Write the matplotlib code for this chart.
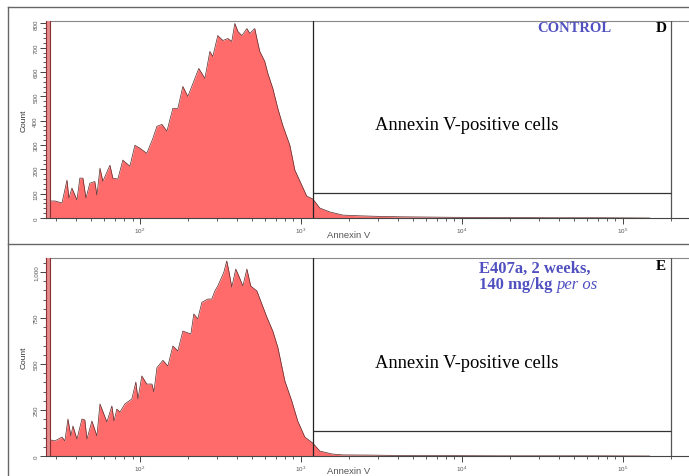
import matplotlib
matplotlib.use("Agg")
import matplotlib.pyplot as plt
import numpy as np
from matplotlib.lines import Line2D
from matplotlib.ticker import LogLocator, MultipleLocator, FuncFormatter, NullFormatter

# Annexin V histograms, log10 of channel intensity vs event count
control_log = [1.422, 1.472, 1.516, 1.547, 1.559, 1.578, 1.609, 1.627, 1.646, 1.665,
               1.689, 1.720, 1.733, 1.752, 1.770, 1.814, 1.832, 1.863, 1.894, 1.938,
               1.969, 2.000, 2.043, 2.081, 2.106, 2.137, 2.168, 2.205, 2.236, 2.267,
               2.298, 2.342, 2.366, 2.404, 2.435, 2.453, 2.484, 2.516, 2.547, 2.571,
               2.590, 2.609, 2.634, 2.665, 2.683, 2.714, 2.727, 2.745, 2.776, 2.795,
               2.826, 2.857, 2.888, 2.932, 2.963, 3.006, 3.037, 3.075, 3.118, 3.180,
               3.261, 3.366, 3.472, 3.615, 3.925, 4.236, 4.547, 4.857, 5.168]
control_count = [70, 70, 62, 156, 82, 123, 74, 164, 164, 82,
                 143, 150, 94, 205, 151, 217, 164, 160, 238, 213,
                 299, 287, 266, 328, 377, 385, 357, 451, 451, 541,
                 500, 574, 615, 574, 685, 664, 750, 730, 738, 726,
                 800, 767, 750, 779, 759, 779, 738, 685, 644, 595,
                 533, 451, 381, 299, 197, 135, 90, 78, 41, 25,
                 12, 9, 7, 5, 3, 2, 1, 1, 0]

e407a_log = [1.422, 1.472, 1.516, 1.534, 1.553, 1.571, 1.584, 1.609, 1.640, 1.658,
             1.671, 1.702, 1.733, 1.752, 1.795, 1.826, 1.839, 1.857, 1.876, 1.907,
             1.950, 1.975, 1.988, 2.012, 2.043, 2.075, 2.087, 2.106, 2.143, 2.174,
             2.205, 2.236, 2.267, 2.317, 2.335, 2.360, 2.385, 2.422, 2.447, 2.466,
             2.484, 2.509, 2.522, 2.540, 2.553, 2.571, 2.596, 2.615, 2.640, 2.665,
             2.689, 2.727, 2.758, 2.789, 2.826, 2.857, 2.901, 2.944, 2.981, 3.025,
             3.075, 3.118, 3.193, 3.261, 3.429, 3.615, 3.925, 4.236, 4.857, 5.168]
e407a_count = [92, 82, 103, 82, 201, 109, 163, 92, 201, 196,
               92, 190, 109, 283, 185, 272, 190, 255, 239, 283,
               310, 402, 310, 435, 391, 391, 348, 480, 520, 489,
               598, 571, 679, 663, 772, 745, 835, 853, 853, 897,
               924, 973, 1000, 1060, 1005, 918, 1016, 978, 924, 1016,
               924, 897, 826, 755, 679, 592, 408, 299, 190, 103,
               70, 27, 11, 6, 5, 3, 2, 1, 1, 0]

# off-scale events piled in the lowest channel
offscale_log = (1.416, 1.440)
offscale_count = 5000

# Annexin V-positive gate
gate_x = (1189, 201000)
gate_y = {"control": 103, "e407a": 136}

x_limits = (26.1, 262143)
y_limits = {"control": 810, "e407a": 1076}

fill_color = "#ff6b6b"
edge_color = "#5a2a2a"
gray = "#444444"

W, H = 689, 477
fig = plt.figure(figsize=(W / 100, H / 100), dpi=100)
plt.rcParams["font.family"] = ["Liberation Sans", "DejaVu Sans"]


def px(x, y):
    return x / W, 1 - y / H


def draw_panel(rect, logs, counts, ymax, gate_h, major, minor, fmt):
    ax = fig.add_axes(rect)
    x = 10 ** np.array(logs)
    ax.fill_between(x, counts, 0, color=fill_color, lw=0, zorder=2)
    ax.plot(x, counts, color=edge_color, lw=0.5, zorder=3)
    ax.fill_between(10 ** np.array(offscale_log), offscale_count, 0,
                    color="#e48a8a", ec="#8a3030", lw=0.8, zorder=3)

    ax.axvline(gate_x[0], color="#222222", lw=0.9, zorder=4)
    ax.axvline(gate_x[1], color="#555555", lw=0.9, zorder=4)
    ax.hlines(gate_h, gate_x[0], gate_x[1], color="#333333", lw=0.9, zorder=4)

    ax.set_xscale("log")
    ax.set_xlim(*x_limits)
    ax.set_ylim(0, ymax)
    ax.xaxis.set_major_locator(LogLocator(base=10, numticks=10))
    ax.xaxis.set_minor_locator(LogLocator(base=10, subs=np.arange(2, 10), numticks=20))
    ax.xaxis.set_minor_formatter(NullFormatter())
    ax.yaxis.set_major_locator(MultipleLocator(major))
    ax.yaxis.set_minor_locator(MultipleLocator(minor))
    ax.yaxis.set_major_formatter(FuncFormatter(fmt))

    ax.tick_params(axis="both", which="major", length=4, width=0.7, color=gray,
                   labelsize=4.5, labelcolor="#555555", pad=1.5)
    ax.tick_params(axis="both", which="minor", length=2.5, width=0.6, color=gray)
    for lab in ax.get_yticklabels():
        lab.set_rotation(90)
        lab.set_va("center")
    ax.set_ylabel("Count", fontsize=6, color="#333333", labelpad=4)
    ax.spines["top"].set_color("#888888")
    ax.spines["right"].set_visible(False)
    ax.spines["bottom"].set_color(gray)
    ax.spines["left"].set_color(gray)
    return ax


ax1 = draw_panel([46 / W, 1 - 219 / H, 644 / W, 197 / H], control_log, control_count,
                 y_limits["control"], gate_y["control"], 100, 20,
                 lambda v, p: f"{int(v)}")
ax2 = draw_panel([46 / W, 1 - 457 / H, 644 / W, 198 / H], e407a_log, e407a_count,
                 y_limits["e407a"], gate_y["e407a"], 250, 50,
                 lambda v, p: f"{int(v):,}")

# axis titles
fig.text(*px(349, 236), "Annexin V", fontsize=6.8, color="#555555", ha="center", va="center")
fig.text(*px(349, 472), "Annexin V", fontsize=6.8, color="#555555", ha="center", va="center")

serif = "Liberation Serif"
blue = "#5050c0"
fig.text(*px(467, 126), "Annexin V-positive cells", family=serif, fontsize=13.3,
         ha="center", va="center")
fig.text(*px(467, 363), "Annexin V-positive cells", family=serif, fontsize=13.3,
         ha="center", va="center")
fig.text(*px(574, 29), "CONTROL", family=serif, fontsize=10.5, weight="bold",
         color=blue, ha="center", va="center")
fig.text(*px(661, 29), "D", family=serif, fontsize=11, weight="bold",
         ha="center", va="center")
fig.text(*px(661, 267), "E", family=serif, fontsize=11, weight="bold",
         ha="center", va="center")
fig.text(*px(479, 269), "E407a, 2 weeks,", family=serif, fontsize=12, weight="bold",
         color=blue, ha="left", va="center")
dose = fig.text(*px(479, 285), "140 mg/kg ", family=serif, fontsize=12, weight="bold",
                color=blue, ha="left", va="center")
plt.annotate("per os", xy=(1, 0), xycoords=dose, family=serif, fontsize=12,
             style="italic", color=blue, ha="left", va="bottom")

# outer panel frame
for seg in [((8, 8), (8, 477)), ((8, 689), (8, 8)), ((8, 689), (245, 245))]:
    xs = [s / W for s in seg[0]]
    ys = [1 - s / H for s in seg[1]]
    fig.add_artist(Line2D(xs, ys, color="#666666", lw=1.0))

fig.savefig("out.png", dpi=100)
